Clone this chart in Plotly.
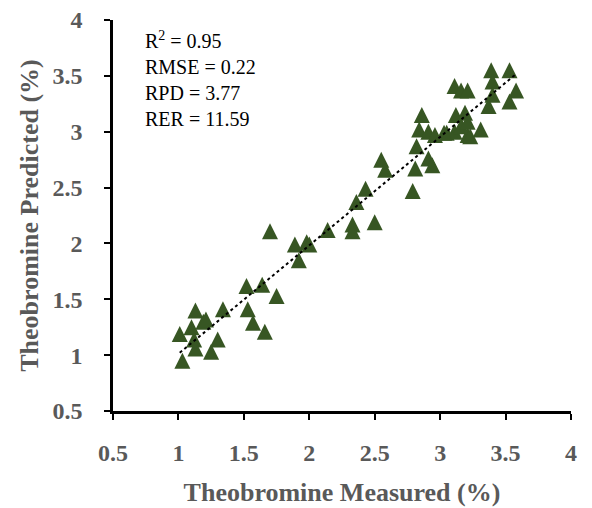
import numpy as np
import plotly.graph_objects as go

measured = [1.01, 1.03, 1.13, 1.10, 1.12, 1.13, 1.19, 1.21, 1.25, 1.30, 1.34,
            1.52, 1.53, 1.57, 1.64, 1.66, 1.75, 1.70, 1.89, 1.92, 1.98, 2.00,
            2.14, 2.33, 2.33, 2.50, 2.36, 2.43, 2.55, 2.58, 2.79, 2.82, 2.81,
            2.86, 2.84, 2.91, 2.94, 2.91, 2.96, 3.05, 3.11, 3.12, 3.19, 3.21,
            3.16, 3.11, 3.16, 3.21, 3.39, 3.53, 3.40, 3.40, 3.37, 3.58, 3.53,
            3.21, 3.23, 3.31, 3.03]
predicted = [1.19, 0.95, 1.40, 1.25, 1.14, 1.06, 1.30, 1.32, 1.03, 1.14, 1.41,
             1.62, 1.41, 1.29, 1.63, 1.21, 1.53, 2.11, 1.99, 1.85, 2.01, 1.99,
             2.12, 2.17, 2.11, 2.19, 2.37, 2.49, 2.75, 2.66, 2.47, 2.87, 2.67,
             3.15, 3.02, 2.76, 2.70, 3.00, 2.97, 2.99, 3.00, 3.15, 3.17, 2.97,
             3.05, 3.41, 3.37, 3.37, 3.55, 3.55, 3.45, 3.33, 3.23, 3.37, 3.27,
             3.09, 2.96, 3.02, 2.99]
tick_vals = [0.5, 1, 1.5, 2, 2.5, 3, 3.5, 4]
tick_text = ["0.5", "1", "1.5", "2", "2.5", "3", "3.5", "4"]
stats_text = "R<sup>2</sup> = 0.95<br>RMSE = 0.22<br>RPD = 3.77<br>RER = 11.59"

slope, intercept = np.polyfit(measured, predicted, 1)
xl = np.array([min(measured), max(measured)])
yl = slope * xl + intercept

fig = go.Figure()
fig.add_trace(go.Scatter(x=measured, y=predicted, mode="markers",
                         marker=dict(symbol="arrow-down", angle=180, standoff=8, size=16,
                                     color="#375623", line=dict(width=0)),
                         showlegend=False, hoverinfo="skip"))
fig.add_trace(go.Scatter(x=xl, y=yl, mode="lines",
                         line=dict(color="black", width=2, dash="dot"),
                         showlegend=False, hoverinfo="skip"))

tickfont = dict(family="Liberation Serif", size=24, color="#595959", weight="bold")
titlefont = dict(family="Liberation Serif", size=26, color="#595959", weight="bold")
axis_common = dict(range=[0.5, 4], tickvals=tick_vals, ticktext=tick_text,
                   showgrid=False, zeroline=False, showline=True, automargin=False,
                   linecolor="black", linewidth=2.5, ticks="outside",
                   ticklen=6, tickwidth=2, tickcolor="black", tickfont=tickfont)

fig.update_layout(
    width=592, height=508,
    margin=dict(l=113, r=21, t=20, b=97),
    paper_bgcolor="white", plot_bgcolor="white",
    xaxis=dict(**axis_common, ticklabelstandoff=12,
               title=dict(text="Theobromine Measured (%)", standoff=19, font=titlefont)),
    yaxis=dict(**axis_common, ticklabelstandoff=17,
               title=dict(text="Theobromine Predicted (%)", standoff=7, font=titlefont)),
    annotations=[dict(x=0.065, y=0.985, xref="paper", yref="paper", xanchor="left", yanchor="top",
                      text=stats_text, showarrow=False, align="left",
                      font=dict(family="Liberation Serif", size=20, color="black"))],
)

fig.write_html("out.html")
